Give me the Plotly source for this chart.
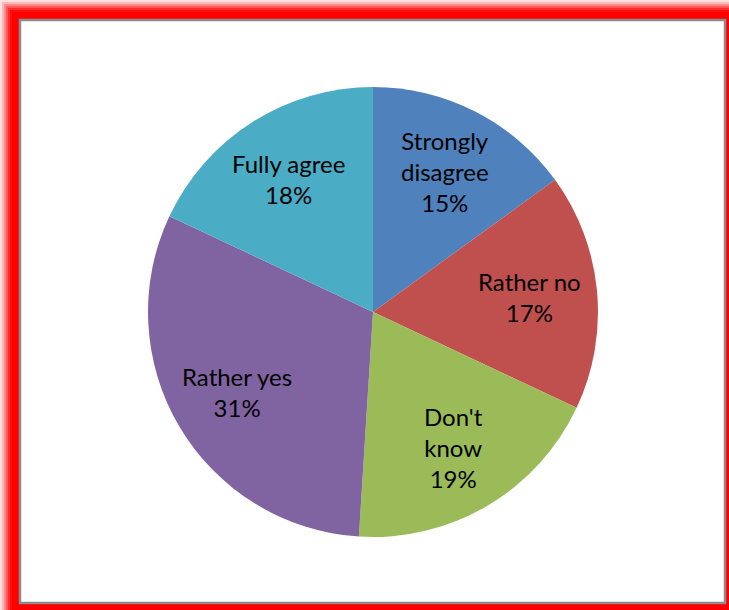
import math
import plotly.graph_objects as go

categories = ["Strongly disagree", "Rather no", "Don't know", "Rather yes", "Fully agree"]
display_labels = ["Strongly<br>disagree", "Rather no", "Don't<br>know", "Rather yes", "Fully agree"]
values = [15, 17, 19, 31, 18]
colors = ["#4F81BD", "#C0504D", "#9BBB59", "#8064A2", "#4BACC6"]

W, H = 729, 610

def px(x):
    return x / W

def py(y):
    return 1 - y / H

# pie geometry in pixels
CX, CY, R = 373, 312, 225
LABEL_FRAC = 0.70

fig = go.Figure()
fig.add_trace(go.Pie(
    labels=categories,
    values=values,
    textinfo="none",
    sort=False,
    direction="clockwise",
    rotation=0,
    marker=dict(colors=colors, line=dict(width=0)),
    showlegend=False,
    hoverinfo="label+percent",
    domain=dict(x=[px(CX - R), px(CX + R)], y=[py(CY + R), py(CY - R)]),
))

# data labels placed along each slice bisector
total = sum(values)
annotations = []
cum = 0
for lab, v in zip(display_labels, values):
    mid = (cum + v / 2) / total * 2 * math.pi
    cum += v
    lx = CX + LABEL_FRAC * R * math.sin(mid)
    ly = CY - LABEL_FRAC * R * math.cos(mid)
    annotations.append(dict(
        x=px(lx), y=py(ly), xref="paper", yref="paper",
        text="%s<br>%d%%" % (lab, round(v / total * 100)),
        showarrow=False, xanchor="center", yanchor="middle", align="center",
        font=dict(family="Lato, Open Sans, sans-serif", size=24, color="#000000"),
    ))

shapes = []
# red glow border
for off, op in [(0, 0.12), (2, 0.18), (4, 0.25), (6, 0.35), (8, 0.5), (10, 0.7), (12, 1.0)]:
    shapes.append(dict(type="rect", xref="paper", yref="paper", layer="below",
                       x0=px(off), x1=1.02, y0=-0.02, y1=py(off),
                       fillcolor="rgba(255,0,0,%s)" % op, line=dict(width=0)))
# inner white panel with grey border
shapes.append(dict(type="rect", xref="paper", yref="paper", layer="below",
                   x0=px(20), x1=px(725), y0=py(603), y1=py(20),
                   fillcolor="#FFFFFF", line=dict(color="#8C8C8C", width=2.5)))

fig.update_layout(
    width=W, height=H,
    margin=dict(l=0, r=0, t=0, b=0),
    paper_bgcolor="#FFFFFF",
    plot_bgcolor="#FFFFFF",
    shapes=shapes,
    annotations=annotations,
)

fig.write_html("out.html", config={"displayModeBar": False},
               post_script="document.body.style.margin='0px';document.body.style.overflow='hidden';")
